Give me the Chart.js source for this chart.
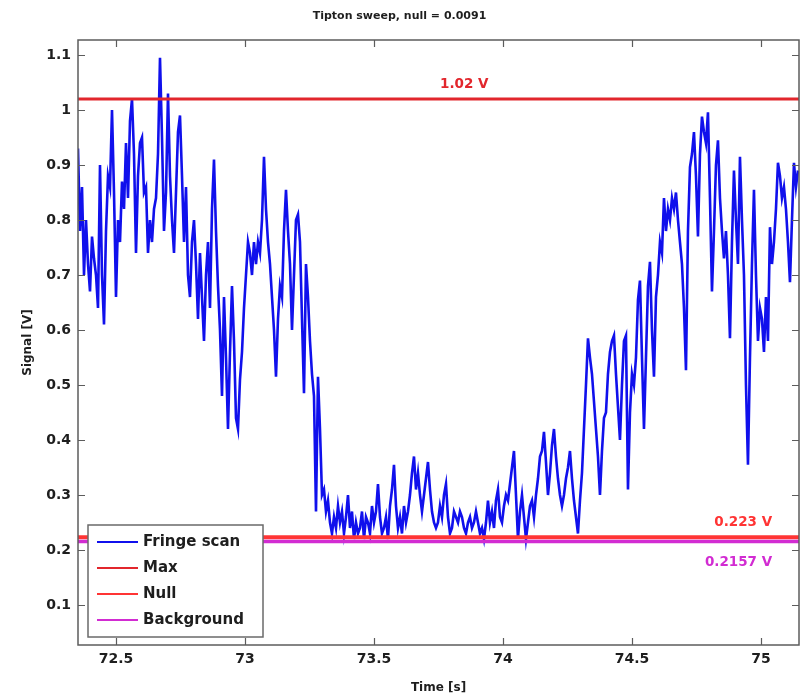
<!DOCTYPE html>
<html>
<head>
<meta charset="utf-8">
<title>Tipton sweep</title>
<script src="https://cdn.jsdelivr.net/npm/chart.js@4.4.1/dist/chart.umd.min.js"></script>
<style>
  html, body { margin: 0; padding: 0; background: #fff; }
  #wrap { width: 801px; height: 696px; }
</style>
</head>
<body>
<div id="wrap"><canvas id="sweep" width="801" height="696"></canvas></div>
<script>
// sampled trace: start time and sample spacing in seconds
const startTime = 72.353;
const sampleStep = 0.00775;

// detector signal [V]
const fringeScan = [
  0.93, 0.78, 0.86, 0.70, 0.80, 0.72, 0.67, 0.77, 0.73, 0.70, 0.64, 0.90, 0.70, 0.61, 0.78, 0.88,
  0.86, 1.00, 0.85, 0.66, 0.80, 0.76, 0.87, 0.82, 0.94, 0.84, 0.98, 1.02, 0.92, 0.74, 0.88, 0.94,
  0.95, 0.85, 0.86, 0.74, 0.80, 0.76, 0.82, 0.84, 0.92, 1.095, 0.95, 0.78, 0.85, 1.03, 0.88, 0.80,
  0.74, 0.85, 0.96, 0.99, 0.88, 0.76, 0.86, 0.70, 0.66, 0.76, 0.80, 0.72, 0.62, 0.74, 0.66, 0.58,
  0.70, 0.76, 0.64, 0.82, 0.91, 0.78, 0.68, 0.60, 0.48, 0.66, 0.55, 0.42, 0.56, 0.68, 0.58, 0.44,
  0.42, 0.51, 0.56, 0.64, 0.70, 0.76, 0.74, 0.70, 0.76,
  0.72, 0.76, 0.74, 0.80, 0.915, 0.82, 0.76, 0.72, 0.66, 0.60, 0.515, 0.62, 0.68, 0.66, 0.78, 0.855,
  0.78, 0.72, 0.60, 0.70, 0.80, 0.81, 0.76, 0.62, 0.485, 0.72, 0.66, 0.58, 0.52, 0.48, 0.27, 0.515,
  0.42, 0.30, 0.31, 0.27, 0.29, 0.25, 0.23, 0.26, 0.24, 0.28, 0.25, 0.27, 0.23, 0.26, 0.30, 0.24,
  0.27, 0.22, 0.25, 0.23, 0.24, 0.27, 0.22, 0.26, 0.25, 0.23, 0.28, 0.25, 0.27, 0.32, 0.26, 0.23,
  0.24, 0.26, 0.22, 0.28, 0.31, 0.355, 0.28, 0.24, 0.26, 0.23, 0.28, 0.25, 0.27, 0.30, 0.34, 0.37,
  0.31, 0.34, 0.30, 0.27, 0.30, 0.33, 0.36, 0.31, 0.27, 0.25, 0.24, 0.25, 0.28, 0.26, 0.30, 0.32,
  0.26, 0.23,
  0.24, 0.27, 0.26, 0.25, 0.27, 0.26, 0.24, 0.23, 0.25, 0.26, 0.24, 0.25, 0.27, 0.25, 0.23, 0.24,
  0.22, 0.25, 0.29, 0.25, 0.27, 0.24, 0.29, 0.31, 0.26, 0.25, 0.28, 0.30, 0.29, 0.32, 0.35, 0.38,
  0.30, 0.22, 0.27, 0.30, 0.26, 0.22, 0.25, 0.28, 0.29, 0.26, 0.30, 0.33, 0.37, 0.38, 0.415, 0.36,
  0.30, 0.34, 0.39, 0.42, 0.37, 0.33, 0.30, 0.28, 0.30, 0.33, 0.35, 0.38, 0.33, 0.29, 0.26, 0.23,
  0.29, 0.34, 0.42, 0.50, 0.585, 0.55, 0.52, 0.47, 0.42, 0.37, 0.30, 0.38, 0.44, 0.45, 0.52, 0.56,
  0.58, 0.59, 0.52, 0.46, 0.40, 0.50, 0.58, 0.59, 0.31, 0.45, 0.52, 0.50, 0.55, 0.655, 0.69,
  0.55, 0.42, 0.55, 0.68, 0.724, 0.60, 0.515, 0.66, 0.70, 0.76, 0.74, 0.84, 0.78, 0.82, 0.80, 0.84,
  0.82, 0.85, 0.80, 0.76, 0.72, 0.64, 0.527, 0.78, 0.896, 0.92, 0.96, 0.88, 0.77, 0.92, 0.988, 0.96,
  0.94, 0.996, 0.84, 0.67, 0.78, 0.90, 0.945, 0.84, 0.78, 0.73, 0.78, 0.70, 0.585, 0.76, 0.89, 0.80,
  0.72, 0.915, 0.80, 0.70, 0.50, 0.355, 0.55, 0.72, 0.855, 0.70, 0.58, 0.64, 0.62, 0.56, 0.66, 0.58,
  0.787, 0.72, 0.76, 0.82, 0.904, 0.88, 0.84, 0.86, 0.82, 0.76, 0.687, 0.80, 0.904, 0.86, 0.89
];

// reference levels [V]
const maxLevel = 1.02;
const nullLevel = 0.223;
const backgroundLevel = 0.2157;

// axes
const timeRange = [72.353, 75.147];
const signalRange = [0.0273, 1.1273];
const timeTicks = [72.5, 73, 73.5, 74, 74.5, 75];
const signalTicks = [0.1, 0.2, 0.3, 0.4, 0.5, 0.6, 0.7, 0.8, 0.9, 1, 1.1];

const seriesNames = ['Fringe scan', 'Max', 'Null', 'Background'];
const seriesColors = ['#1010ec', '#e2262c', '#ff3434', '#d22cd2'];

const FONT = 'DejaVu Sans';
const INK = '#1e1e1e';

const scanPoints = fringeScan.map((v, i) => ({ x: +(startTime + i * sampleStep).toFixed(5), y: v }));
const levelLine = v => [{ x: timeRange[0], y: v }, { x: timeRange[1], y: v }];

// matlab style box, inward ticks, level labels and legend
const matlabFrame = {
  id: 'matlabFrame',
  afterDatasetsDraw(chart) {
    const { ctx, chartArea: a, scales: { x, y } } = chart;
    ctx.save();
    ctx.strokeStyle = '#5c5c5c';
    ctx.lineWidth = 1.5;
    ctx.strokeRect(a.left, a.top, a.right - a.left, a.bottom - a.top);
    ctx.beginPath();
    timeTicks.forEach(t => {
      const px = Math.round(x.getPixelForValue(t)) + 0.5;
      ctx.moveTo(px, a.bottom); ctx.lineTo(px, a.bottom - 7);
      ctx.moveTo(px, a.top); ctx.lineTo(px, a.top + 7);
    });
    signalTicks.forEach(v => {
      const py = Math.round(y.getPixelForValue(v)) + 0.5;
      ctx.moveTo(a.left, py); ctx.lineTo(a.left + 7, py);
      ctx.moveTo(a.right, py); ctx.lineTo(a.right - 7, py);
    });
    ctx.lineWidth = 1.2;
    ctx.stroke();
    ctx.restore();
  },
  afterDraw(chart) {
    const { ctx, chartArea: a, scales: { x, y } } = chart;
    ctx.save();
    // level labels
    ctx.font = 'bold 13.5px ' + FONT;
    ctx.textBaseline = 'middle';
    ctx.fillStyle = seriesColors[1];
    ctx.textAlign = 'center';
    ctx.fillText(maxLevel + ' V', x.getPixelForValue(73.85), y.getPixelForValue(maxLevel) - 15);
    ctx.textAlign = 'right';
    ctx.fillStyle = seriesColors[2];
    ctx.fillText(nullLevel + ' V', x.getPixelForValue(75.043), y.getPixelForValue(nullLevel) - 15);
    ctx.fillStyle = seriesColors[3];
    ctx.fillText(backgroundLevel + ' V', x.getPixelForValue(75.043), y.getPixelForValue(backgroundLevel) + 21);

    // legend box
    const bx = a.left + 10, bw = 175, bh = 112, by = a.bottom - 8 - bh;
    ctx.fillStyle = '#fff';
    ctx.fillRect(bx, by, bw, bh);
    ctx.strokeStyle = '#6a6a6a';
    ctx.lineWidth = 1.5;
    ctx.strokeRect(bx, by, bw, bh);
    ctx.font = 'bold 15px ' + FONT;
    ctx.textAlign = 'left';
    chart.data.datasets.forEach((ds, i) => {
      const ry = by + 17 + i * 26;
      ctx.strokeStyle = ds.borderColor;
      ctx.lineWidth = 2.2;
      ctx.beginPath();
      ctx.moveTo(bx + 9, ry); ctx.lineTo(bx + 50, ry);
      ctx.stroke();
      ctx.fillStyle = INK;
      ctx.fillText(ds.label, bx + 55, ry);
    });
    ctx.restore();
  }
};

new Chart(document.getElementById('sweep'), {
  type: 'line',
  data: {
    datasets: [
      { label: seriesNames[0], data: scanPoints, borderColor: seriesColors[0], borderWidth: 2.6, order: 3 },
      { label: seriesNames[1], data: levelLine(maxLevel), borderColor: seriesColors[1], borderWidth: 3, order: 2 },
      { label: seriesNames[2], data: levelLine(nullLevel), borderColor: seriesColors[2], borderWidth: 4, order: 1 },
      { label: seriesNames[3], data: levelLine(backgroundLevel), borderColor: seriesColors[3], borderWidth: 3.5, order: 0 }
    ]
  },
  options: {
    responsive: false,
    animation: false,
    layout: { padding: { left: 0, right: 2, top: 0, bottom: 0 } },
    elements: { point: { radius: 0 }, line: { tension: 0 } },
    plugins: {
      legend: { display: false },
      tooltip: { enabled: false },
      title: {
        display: true,
        text: 'Tipton sweep, null = 0.0091',
        color: INK,
        font: { family: FONT, size: 11, weight: 'bold' },
        padding: { top: 10, bottom: 16.8 }
      }
    },
    scales: {
      x: {
        type: 'linear',
        min: timeRange[0],
        max: timeRange[1],
        afterFit: s => { s.height = 51; },
        afterBuildTicks: s => { s.ticks = timeTicks.map(v => ({ value: v })); },
        grid: { display: false, drawTicks: false },
        border: { display: false },
        ticks: { color: INK, padding: 6, font: { family: FONT, size: 14, weight: 'bold' }, callback: v => String(v) },
        title: { display: true, text: 'Time [s]', color: INK, font: { family: FONT, size: 12, weight: 'bold' }, padding: { top: 0, bottom: 1 } }
      },
      y: {
        type: 'linear',
        min: signalRange[0],
        max: signalRange[1],
        afterFit: s => { s.width = 78; },
        afterBuildTicks: s => { s.ticks = signalTicks.map(v => ({ value: v })); },
        grid: { display: false, drawTicks: false },
        border: { display: false },
        ticks: { color: INK, padding: 7, font: { family: FONT, size: 14, weight: 'bold' }, callback: v => String(v) },
        title: { display: true, text: 'Signal [V]', color: INK, font: { family: FONT, size: 12, weight: 'bold' }, padding: { top: 20.8, bottom: 0 } }
      }
    }
  },
  plugins: [matlabFrame]
});
</script>
</body>
</html>
